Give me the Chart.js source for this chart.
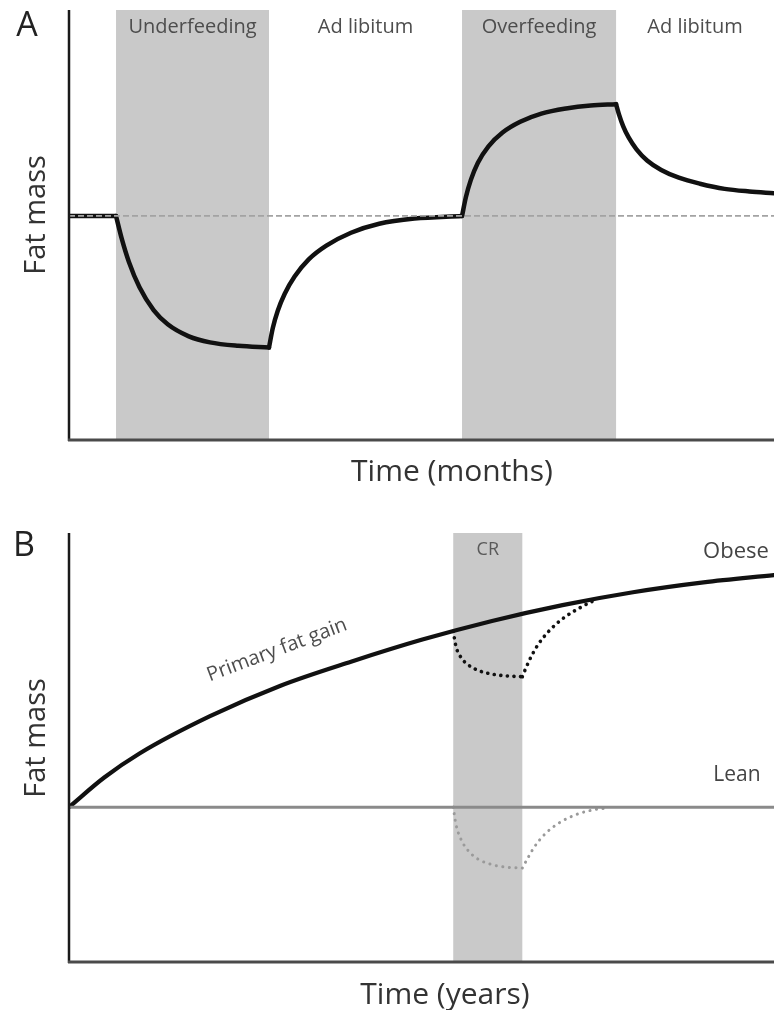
<!DOCTYPE html>
<html>
<head>
<meta charset="utf-8">
<script src="https://cdn.jsdelivr.net/npm/chart.js@4.4.0/dist/chart.umd.min.js"></script>
<style>
  html, body { margin: 0; padding: 0; background: #fff; }
  #wrap { position: relative; width: 774px; height: 1010px; }
  canvas { position: absolute; left: 0; }
</style>
</head>
<body>
<div id="wrap">
  <canvas id="panelA" width="774" height="505" style="top:0"></canvas>
  <canvas id="panelB" width="774" height="505" style="top:505px"></canvas>
</div>
<script>
'use strict';

// --- Panel A: phases (time, arbitrary units 0-100) ---
const phaseStartA = [6.67, 28.37, 55.75, 77.6];
const phaseEndA   = [28.37, 55.75, 77.6, 100];
const phaseNameA  = ['Underfeeding', 'Ad libitum', 'Overfeeding', 'Ad libitum'];
const phaseShadeA = [true, false, true, false];

// --- Panel A: fat mass curve ---
const baseTimeA = [0, 100];
const baseFatA  = [52.1, 52.1];

const flatTimeA = [0, 6.67];
const flatFatA  = [52.1, 52.1];

const underTimeA = [6.67, 7.5, 8.5, 10, 12, 14, 17, 20, 24, 28.37];
const underFatA  = [52.1, 46.7, 41.4, 35.5, 30.2, 26.9, 24.1, 22.7, 21.9, 21.5];

const recovTimeA = [28.37, 28.9, 29.6, 30.6, 32.0, 34.0, 36.5, 40, 44, 49, 55.75];
const recovFatA  = [21.5, 26.0, 30.0, 34.0, 38.0, 42.0, 45.2, 48.2, 50.3, 51.5, 52.1];

const overTimeA = [55.75, 56.3, 57.0, 58.0, 59.5, 61.5, 64, 67, 70.5, 74, 77.6];
const overFatA  = [52.1, 56.5, 60.5, 64.5, 68.3, 71.5, 74.0, 75.9, 77.1, 77.8, 78.1];

const decayTimeA = [77.6, 78.0, 78.6, 79.4, 80.5, 82.0, 84.0, 86.5, 89.5, 93, 96.5, 100];
const decayFatA  = [78.1, 75.8, 73.0, 70.3, 67.6, 65.0, 62.8, 61.0, 59.6, 58.4, 57.8, 57.4];

// --- Panel B: CR window ---
const crStartB = 54.5;
const crEndB   = 64.3;

// --- Panel B: curves ---
const leanTimeB = [0, 100];
const leanFatB  = [36.1, 36.1];

const obeseTimeB = [0, 5, 10, 20, 30, 40, 50, 60, 70, 80, 90, 100];
const obeseFatB  = [36.1, 43.0, 48.6, 57.3, 64.4, 70.0, 75.1, 79.5, 83.2, 86.2, 88.5, 90.2];

const obeseCrTimeB = [54.5, 54.9, 55.6, 56.6, 58.0, 60.0, 62.0, 64.3];
const obeseCrFatB  = [77.1, 73.5, 71.0, 69.3, 68.0, 67.1, 66.7, 66.5];
const obeseReTimeB = [64.3, 64.8, 65.5, 66.5, 68.0, 70.0, 72.5, 75.0];
const obeseReFatB  = [66.5, 68.5, 71.0, 73.9, 77.0, 80.0, 82.6, 84.7];

const leanCrTimeB = [54.5, 54.9, 55.6, 56.6, 58.0, 60.0, 62.0, 64.3];
const leanCrFatB  = [36.1, 32.0, 28.6, 26.0, 24.0, 22.7, 22.1, 21.9];
const leanReTimeB = [64.3, 65.0, 66.0, 67.5, 69.5, 72.0, 74.5, 76.3];
const leanReFatB  = [21.9, 24.0, 26.8, 29.8, 32.4, 34.4, 35.5, 35.9];

const FONT = '"Open Sans", "DejaVu Sans", sans-serif';
const SHADE = '#c9c9c9';
const INK = '#111';

// --- helpers ---
function pts(xs, ys) {
  return xs.map((x, i) => ({ x, y: ys[i] }));
}

function curve(xs, ys, extra) {
  return Object.assign({
    data: pts(xs, ys),
    borderColor: INK,
    borderWidth: 4.5,
    borderCapStyle: 'round',
    borderJoinStyle: 'round',
    cubicInterpolationMode: 'monotone',
    pointRadius: 0,
    fill: false
  }, extra || {});
}

function text(ctx, str, x, y, size, color, rot) {
  ctx.save();
  ctx.translate(x, y);
  if (rot) ctx.rotate(rot);
  ctx.font = size + 'px ' + FONT;
  ctx.fillStyle = color;
  ctx.textAlign = 'center';
  ctx.textBaseline = 'middle';
  ctx.fillText(str, 0, 0);
  ctx.restore();
}

function drawAxes(chart) {
  const { ctx, chartArea: a } = chart;
  ctx.save();
  ctx.lineCap = 'butt';
  ctx.strokeStyle = '#1a1a1a';
  ctx.lineWidth = 2.5;
  ctx.beginPath();
  ctx.moveTo(a.left, a.top);
  ctx.lineTo(a.left, a.bottom + 1);
  ctx.stroke();
  ctx.strokeStyle = '#4a4a4a';
  ctx.lineWidth = 3;
  ctx.beginPath();
  ctx.moveTo(a.left - 1, a.bottom);
  ctx.lineTo(a.right, a.bottom);
  ctx.stroke();
  ctx.restore();
}

function baseOptions(padding) {
  return {
    responsive: false,
    animation: false,
    devicePixelRatio: 1,
    layout: { padding },
    plugins: { legend: { display: false }, tooltip: { enabled: false } },
    scales: {
      x: { type: 'linear', min: 0, max: 100, display: false },
      y: { type: 'linear', min: 0, max: 100, display: false }
    }
  };
}

// --- Panel A ---
const decorA = {
  id: 'decorA',
  beforeDatasetsDraw(chart) {
    const { ctx, chartArea: a, scales: { x } } = chart;
    ctx.save();
    ctx.fillStyle = SHADE;
    phaseStartA.forEach((s, i) => {
      if (!phaseShadeA[i]) return;
      const x0 = x.getPixelForValue(s), x1 = x.getPixelForValue(phaseEndA[i]);
      ctx.fillRect(x0, a.top, x1 - x0, a.bottom - a.top);
    });
    ctx.restore();
  },
  afterDatasetsDraw(chart) {
    const { ctx, chartArea: a, scales: { x } } = chart;
    drawAxes(chart);
    phaseNameA.forEach((n, i) => {
      const mid = (x.getPixelForValue(phaseStartA[i]) + x.getPixelForValue(phaseEndA[i])) / 2;
      text(ctx, n, mid, a.top + 17, 20, '#4d4d4d');
    });
    text(ctx, 'A', a.left - 42, a.top + 16, 34, '#222');
    text(ctx, 'Fat mass', a.left - 32, a.top + 205, 29, '#333', -Math.PI / 2);
    text(ctx, 'Time (months)', 452, a.bottom + 32, 30, '#333');
  }
};

new Chart(document.getElementById('panelA'), {
  type: 'line',
  data: {
    datasets: [
      curve(baseTimeA, baseFatA, { borderColor: '#a3a3a3', borderWidth: 1.8, borderDash: [6, 3], borderCapStyle: 'butt', cubicInterpolationMode: 'default' }),
      curve(flatTimeA, flatFatA),
      curve(underTimeA, underFatA),
      curve(recovTimeA, recovFatA),
      curve(overTimeA, overFatA),
      curve(decayTimeA, decayFatA)
    ]
  },
  options: baseOptions({ left: 69, right: 0, top: 10, bottom: 65 }),
  plugins: [decorA]
});

// --- Panel B ---
const decorB = {
  id: 'decorB',
  beforeDatasetsDraw(chart) {
    const { ctx, chartArea: a, scales: { x } } = chart;
    const x0 = x.getPixelForValue(crStartB), x1 = x.getPixelForValue(crEndB);
    ctx.save();
    ctx.fillStyle = SHADE;
    ctx.fillRect(x0, a.top, x1 - x0, a.bottom - a.top);
    ctx.restore();
  },
  afterDatasetsDraw(chart) {
    const { ctx, chartArea: a, scales: { x, y } } = chart;
    drawAxes(chart);
    const mid = (x.getPixelForValue(crStartB) + x.getPixelForValue(crEndB)) / 2;
    text(ctx, 'CR', mid, a.top + 17, 18, '#5a5a5a');
    text(ctx, 'Obese', a.right - 38, a.top + 19, 22, '#444');
    text(ctx, 'Lean', a.right - 37, y.getPixelForValue(leanFatB[0]) - 32, 21, '#444');
    text(ctx, 'Primary fat gain', x.getPixelForValue(29.5), y.getPixelForValue(72.7), 20, '#4d4d4d', -20.6 * Math.PI / 180);
    text(ctx, 'B', a.left - 45, a.top + 13, 34, '#222');
    text(ctx, 'Fat mass', a.left - 32, a.top + 205, 29, '#333', -Math.PI / 2);
    text(ctx, 'Time (years)', 445, a.bottom + 33, 30, '#333');
  }
};

new Chart(document.getElementById('panelB'), {
  type: 'line',
  data: {
    datasets: [
      curve(leanTimeB, leanFatB, { borderColor: '#8a8a8a', borderWidth: 3, borderCapStyle: 'butt', cubicInterpolationMode: 'default' }),
      curve(leanCrTimeB, leanCrFatB, { borderColor: '#9a9a9a', borderWidth: 3, borderDash: [0.1, 6.5] }),
      curve(leanReTimeB, leanReFatB, { borderColor: '#9a9a9a', borderWidth: 3, borderDash: [0.1, 6.5] }),
      curve(obeseCrTimeB, obeseCrFatB, { borderWidth: 3.6, borderDash: [0.1, 6.5] }),
      curve(obeseReTimeB, obeseReFatB, { borderWidth: 3.6, borderDash: [0.1, 6.5] }),
      curve(obeseTimeB, obeseFatB, { borderWidth: 4.2 })
    ]
  },
  options: baseOptions({ left: 69, right: 0, top: 28, bottom: 48 }),
  plugins: [decorB]
});
</script>
</body>
</html>
